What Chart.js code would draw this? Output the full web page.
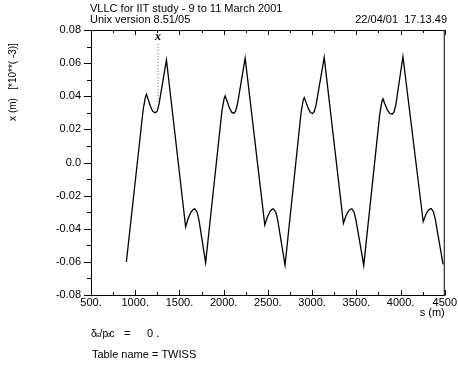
<!DOCTYPE html>
<html lang="en">
<head>
  <meta charset="UTF-8" />
  <title>VLLC for IIT study - x (m)</title>
  <style>
    body {
      margin: 0;
      padding: 0;
      background: #ffffff;
    }
    canvas {
      display: block;
    }
  </style>
</head>
<body>
  <canvas id="orbitChart" width="458" height="369"></canvas>

  <script src="https://cdn.jsdelivr.net/npm/chart.js"></script>
  <script>
    // s (m) along the line
    const sPos = [
      900, 1090, 1115, 1127, 1150, 1175, 1200, 1229, 1250, 1270, 1353,
      1570, 1600, 1630, 1655, 1674, 1700, 1720, 1796,
      1980, 2005, 2017, 2040, 2065, 2090, 2115, 2135, 2155, 2243,
      2465, 2495, 2525, 2548, 2564, 2590, 2610, 2694,
      2875, 2899, 2911, 2934, 2958, 2982, 3005, 3025, 3045, 3137,
      3354, 3384, 3413, 3435, 3450, 3475, 3495, 3584,
      3765, 3789, 3801, 3824, 3850, 3877, 3906, 3926, 3946, 4027,
      4256, 4285, 4313, 4333, 4348, 4372, 4392, 4481
    ];

    // horizontal orbit x (m) [*10**(-3)]
    const xOrbit = [
      -0.0600, 0.0320, 0.0395, 0.0412, 0.0375, 0.0335, 0.0308, 0.0300, 0.0312, 0.0355, 0.0620,
      -0.0388, -0.0335, -0.0300, -0.0284, -0.0280, -0.0300, -0.0345, -0.0605,
      0.0310, 0.0385, 0.0402, 0.0368, 0.0330, 0.0304, 0.0297, 0.0310, 0.0350, 0.0630,
      -0.0377, -0.0328, -0.0295, -0.0282, -0.0280, -0.0300, -0.0345, -0.0619,
      0.0300, 0.0375, 0.0392, 0.0360, 0.0325, 0.0302, 0.0296, 0.0308, 0.0348, 0.0635,
      -0.0367, -0.0320, -0.0292, -0.0281, -0.0280, -0.0300, -0.0345, -0.0620,
      0.0292, 0.0368, 0.0384, 0.0352, 0.0318, 0.0297, 0.0292, 0.0305, 0.0345, 0.0640,
      -0.0357, -0.0315, -0.0290, -0.0280, -0.0279, -0.0298, -0.0340, -0.0615
    ];

    // element marker "x" (dotted line)
    const markerS = [1258, 1258];
    const markerX = [0.0365, 0.0720];
    const markerLabel = "x";

    // axes
    const sMin = 500, sMax = 4500, sStep = 500, sMinor = 250;
    const xMin = -0.08, xMax = 0.08, xStep = 0.02, xMinor = 0.01;

    const FONT = '"Liberation Sans", Arial, sans-serif';

    const decoraciones = {
      id: "decoraciones",
      afterDraw(chart) {
        const { ctx, chartArea: a, scales } = chart;
        const sx = scales.x, sy = scales.y;
        ctx.save();
        ctx.strokeStyle = "#000";
        ctx.lineWidth = 1;

        // frame
        ctx.strokeRect(a.left + 0.5, a.top + 0.5, a.right - a.left - 1, a.bottom - a.top);

        // ticks
        ctx.beginPath();
        const nY = Math.round((xMax - xMin) / xMinor);
        for (let i = 0; i <= nY; i++) {
          const py = Math.round(sy.getPixelForValue(xMin + i * xMinor)) + 0.5;
          const len = i % 2 === 0 ? 7 : 4;
          ctx.moveTo(a.left - len, py);
          ctx.lineTo(a.left + 0.5, py);
        }
        const nX = Math.round((sMax - sMin) / sMinor);
        for (let i = 0; i <= nX; i++) {
          const px = Math.round(sx.getPixelForValue(sMin + i * sMinor)) + 0.5;
          const len = i % 2 === 0 ? 5 : 3;
          ctx.moveTo(px, a.bottom + 0.5);
          ctx.lineTo(px, a.bottom - len);
          ctx.moveTo(px, a.top);
          ctx.lineTo(px, a.top + len);
        }
        ctx.stroke();

        // marker label
        ctx.fillStyle = "#000";
        ctx.font = 'italic bold 12px "Liberation Serif", serif';
        ctx.textAlign = "center";
        ctx.textBaseline = "alphabetic";
        ctx.fillText(markerLabel, sx.getPixelForValue(markerS[1]), sy.getPixelForValue(markerX[1]) - 3);

        // header
        ctx.font = "11px " + FONT;
        ctx.textAlign = "left";
        ctx.fillText("VLLC for IIT study - 9 to 11 March 2001", 90, 11.5);
        ctx.fillText("Unix version 8.51/05", 90, 23);
        ctx.textAlign = "right";
        ctx.fillText("22/04/01  17.13.49", 447, 23);

        // axis titles
        ctx.fillText("s (m)", a.right, 316);
        ctx.save();
        ctx.translate(16, 82);
        ctx.rotate(-Math.PI / 2);
        ctx.textAlign = "center";
        ctx.font = "10px " + FONT;
        ctx.fillText("x (m)   [*10**( -3)]", 0, 0);
        ctx.restore();

        // footer
        ctx.textAlign = "left";
        ctx.font = "10px " + FONT;
        ctx.fillText("\u03b4", 91, 337);
        ctx.fillText("/", 99.5, 337);
        ctx.fillText("p", 102.5, 337);
        ctx.fillText("c", 109.5, 337);
        ctx.font = "11px " + FONT;
        ctx.fillText("=", 124, 337);
        ctx.fillText("0 .", 147, 337);
        ctx.font = "6px " + FONT;
        ctx.fillText("E", 96, 337);
        ctx.fillText("0", 107, 337);
        ctx.font = "11px " + FONT;
        ctx.fillText("Table name = TWISS", 92, 358);
        ctx.restore();
      }
    };

    window.addEventListener("load", () => {
      const ctx = document.getElementById("orbitChart").getContext("2d");
      new Chart(ctx, {
        type: "line",
        data: {
          datasets: [
            {
              data: sPos.map((s, i) => ({ x: s, y: xOrbit[i] })),
              borderColor: "#000",
              borderWidth: 1.3,
              pointRadius: 0,
              tension: 0,
              fill: false,
            },
            {
              data: markerS.map((s, i) => ({ x: s, y: markerX[i] })),
              borderColor: "#777",
              borderWidth: 1,
              borderDash: [1, 2],
              pointRadius: 0,
              fill: false,
            },
          ],
        },
        options: {
          responsive: false,
          animation: false,
          devicePixelRatio: 1,
          layout: { padding: { top: 30, right: 12, left: 0, bottom: 0 } },
          plugins: {
            legend: { display: false },
            tooltip: { enabled: false },
          },
          scales: {
            x: {
              type: "linear",
              min: sMin,
              max: sMax,
              afterFit: (s) => { s.height = 74; },
              grid: { display: false, drawTicks: false },
              border: { display: false },
              ticks: {
                stepSize: sStep,
                padding: 1,
                maxRotation: 0,
                color: "#000",
                font: { family: FONT, size: 11 },
                callback: (v) => (v === sMax ? String(v) : v + "."),
              },
            },
            y: {
              type: "linear",
              min: xMin,
              max: xMax,
              afterFit: (s) => { s.width = 91; },
              grid: { display: false, drawTicks: false },
              border: { display: false },
              ticks: {
                stepSize: xStep,
                padding: 10,
                color: "#000",
                font: { family: FONT, size: 11 },
                callback: (v) => (Math.abs(v) < 1e-9 ? "0.0" : v.toFixed(2)),
              },
            },
          },
        },
        plugins: [decoraciones],
      });
    });
  </script>
</body>
</html>
